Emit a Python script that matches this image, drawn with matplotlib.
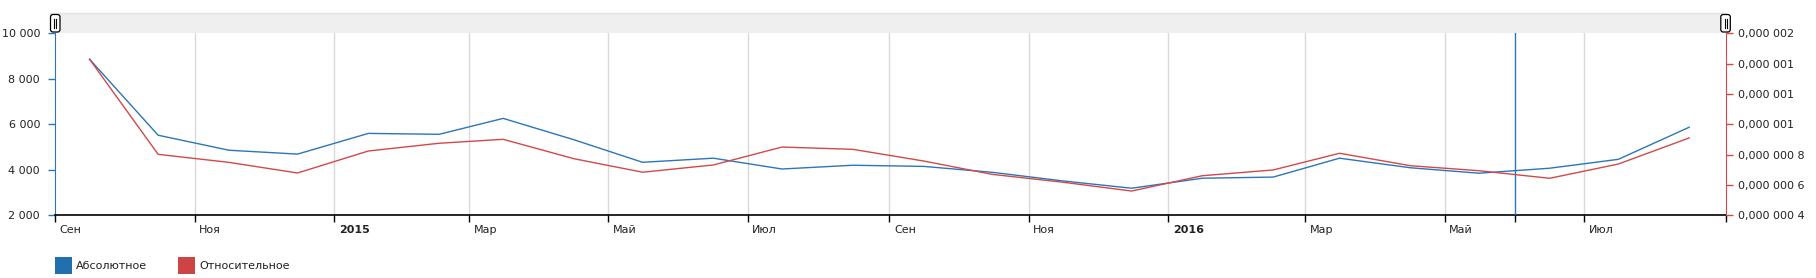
import datetime as dt
import matplotlib
matplotlib.use("Agg")
import matplotlib.pyplot as plt
import matplotlib.dates as mdates
from matplotlib.patches import Rectangle, FancyBboxPatch

# === Data ===
months = [
    "2014-09", "2014-10", "2014-11", "2014-12",
    "2015-01", "2015-02", "2015-03", "2015-04", "2015-05", "2015-06",
    "2015-07", "2015-08", "2015-09", "2015-10", "2015-11", "2015-12",
    "2016-01", "2016-02", "2016-03", "2016-04", "2016-05", "2016-06",
    "2016-07", "2016-08",
]
absolute = [
    8860, 5520, 4860, 4690, 5600, 5560, 6260, 5320, 4330, 4510,
    4035, 4200, 4150, 3890, 3510, 3190, 3630, 3680, 4510, 4090,
    3850, 4070, 4460, 5870,
]
relative = [
    1.429e-6, 0.802e-6, 0.749e-6, 0.679e-6, 0.824e-6, 0.875e-6,
    0.901e-6, 0.773e-6, 0.684e-6, 0.732e-6, 0.850e-6, 0.835e-6,
    0.758e-6, 0.670e-6, 0.618e-6, 0.560e-6, 0.661e-6, 0.699e-6,
    0.809e-6, 0.727e-6, 0.694e-6, 0.644e-6, 0.738e-6, 0.910e-6,
]

x_ticks = ["2014-11-01", "2015-01-01", "2015-03-01", "2015-05-01", "2015-07-01",
           "2015-09-01", "2015-11-01", "2016-01-01", "2016-03-01", "2016-05-01",
           "2016-07-01"]
x_tick_labels = ["Ноя", "2015", "Мар", "Май", "Июл", "Сен", "Ноя", "2016", "Мар", "Май", "Июл"]
start_label = "Сен"

left_ticks = [2000, 4000, 6000, 8000, 10000]
left_labels = ["2 000", "4 000", "6 000", "8 000", "10 000"]
right_ticks = [0.4e-6, 0.6e-6, 0.8e-6, 1.0e-6, 1.2e-6, 1.4e-6, 1.6e-6]
right_labels = ["0,000 000 4", "0,000 000 6", "0,000 000 8", "0,000 001",
                "0,000 001", "0,000 001", "0,000 002"]

series_names = ["Абсолютное", "Относительное"]

cursor_date = "2016-06-01"
x_start, x_end = "2014-09-01", "2016-09-01"

BLUE = "#2b76b8"
RED = "#d2484b"
TXT = "#222222"

# === Plot ===
plt.rcParams["font.family"] = ["DejaVu Sans"]
W, H = 1816, 278
fig = plt.figure(figsize=(W / 100, H / 100), dpi=100)

# overlay in pixel coords for the scroll band / legend decorations
deco = fig.add_axes([0, 0, 1, 1], zorder=10)
deco.set_xlim(0, W)
deco.set_ylim(H, 0)
deco.axis("off")
deco.patch.set_alpha(0)

x0, x1 = 55.3, 1725.7
y0, y1 = 33.3, 215.3
ax = fig.add_axes([x0 / W, 1 - y1 / H, (x1 - x0) / W, (y1 - y0) / H])
ax2 = ax.twinx()

dates = [dt.datetime.strptime(m + "-16", "%Y-%m-%d") for m in months]
to_dt = lambda s: dt.datetime.strptime(s, "%Y-%m-%d")

ax.plot(dates, absolute, color=BLUE, lw=1.0, zorder=3)
ax2.plot(dates, relative, color=RED, lw=1.0, zorder=3)

ax.set_xlim(to_dt(x_start), to_dt(x_end))
ax.set_ylim(2000, 10000)
ax2.set_ylim(0.4e-6, 1.6e-6)

# vertical grid at label ticks
for d in x_ticks:
    ax.axvline(to_dt(d), color="#d9d9d9", lw=1.0, zorder=0)
ax.axvline(to_dt(cursor_date), color=BLUE, lw=1.0, zorder=4)

all_ticks = [to_dt(x_start)] + [to_dt(d) for d in x_ticks] + [to_dt(cursor_date), to_dt(x_end)]
ax.set_xticks(all_ticks)
ax.set_xticklabels([""] * len(all_ticks))
ax.tick_params(axis="x", direction="out", length=5, width=1, color="black")

# x labels, left aligned just right of the tick
for d, lab in [(x_start, start_label)] + list(zip(x_ticks, x_tick_labels)):
    bold = lab.isdigit()
    ax.text(mdates.date2num(to_dt(d)) + 2, -0.08, lab, transform=ax.get_xaxis_transform(),
            ha="left", va="center", fontsize=8, color=TXT,
            fontweight="bold" if bold else "normal")

ax.set_yticks(left_ticks)
ax.set_yticklabels(left_labels)
ax.tick_params(axis="y", direction="out", length=5, width=1, color=BLUE,
               labelcolor=TXT, labelsize=8, pad=6)
ax2.set_yticks(right_ticks)
ax2.set_yticklabels(right_labels)
ax2.tick_params(axis="y", direction="out", length=5, width=1, color=RED,
                labelcolor=TXT, labelsize=8, pad=4)

for a in (ax, ax2):
    a.spines["top"].set_visible(False)
ax.spines["right"].set_visible(False)
ax2.spines["left"].set_visible(False)
ax2.spines["bottom"].set_visible(False)
ax.spines["left"].set_color(BLUE)
ax2.spines["right"].set_color(RED)
ax.spines["bottom"].set_color("black")
ax.spines["bottom"].set_linewidth(1.2)

# === scroll band on top ===
band_top = 13.3
deco.add_patch(Rectangle((50, band_top), x1 - 50, y0 - band_top,
                         facecolor="#efefef", edgecolor="none", zorder=1))
deco.plot([50, x1], [band_top, band_top], color="#e2e2e2", lw=1, zorder=2)
for hx in (50.5, 1720.8):
    deco.add_patch(FancyBboxPatch((hx, 14.5), 9.5, 17.5,
                                  boxstyle="round,pad=0,rounding_size=2.5",
                                  facecolor="white", edgecolor="black", lw=0.9, zorder=5))
    for dx in (3.7, 5.9):
        deco.plot([hx + dx, hx + dx], [18.5, 28], color="black", lw=0.8, zorder=6)

# === legend ===
legend_items = [(series_names[0], "#2170ad", 55.3), (series_names[1], "#cc4444", 178.3)]
for lab, col, lx in legend_items:
    deco.add_patch(Rectangle((lx, 257), 16.5, 17, facecolor=col, edgecolor="none"))
    deco.text(lx + 21, 266, lab, ha="left", va="center", fontsize=8, color=TXT)

fig.savefig("out.png", dpi=100, facecolor="white")
